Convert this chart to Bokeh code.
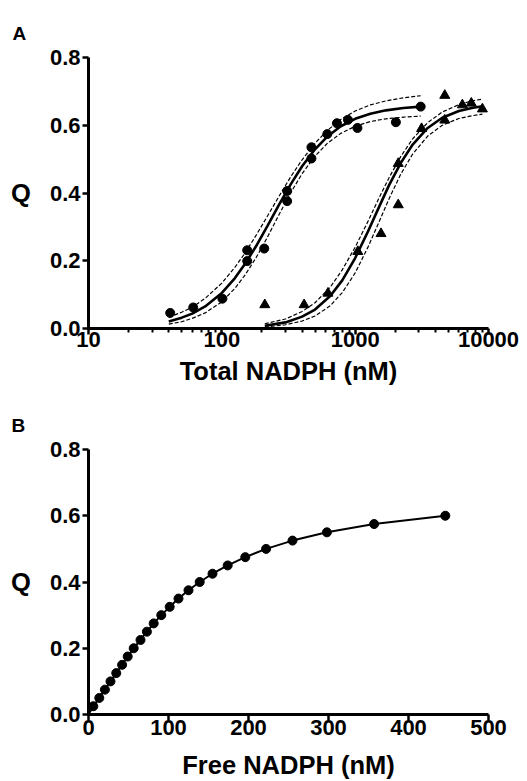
from bokeh.plotting import figure
from bokeh.layouts import column
from bokeh.models import Range1d, FixedTicker, PrintfTickFormatter, Title
from bokeh.embed import file_html
from bokeh.resources import INLINE

FONT = "Liberation Sans"

# ---------------- Panel A data ----------------
circle_nadph = [41, 61, 101, 155, 155, 208, 309, 309, 470, 470, 618, 730, 883, 1040, 2020, 3100]
circle_q = [0.046, 0.062, 0.088, 0.231, 0.199, 0.236, 0.406, 0.376, 0.535, 0.502,
            0.574, 0.606, 0.616, 0.592, 0.609, 0.655]

tri_nadph = [210, 414, 625, 1047, 1563, 2104, 2104, 3148, 4700, 4700, 6370, 7430, 9000]
tri_q = [0.070, 0.070, 0.104, 0.227, 0.280, 0.365, 0.487, 0.590, 0.688, 0.615, 0.660, 0.665, 0.648]

circle_fit_x = [40, 50, 60, 75, 100, 125, 150, 180, 220, 270, 330, 400, 500, 620, 780,
                1000, 1300, 1700, 2300, 3100]
circle_fit_q = [0.021, 0.032, 0.044, 0.065, 0.105, 0.148, 0.192, 0.242, 0.303, 0.367,
                0.427, 0.479, 0.529, 0.567, 0.597, 0.619, 0.634, 0.644, 0.651, 0.655]
circle_fit_upper = [0.033, 0.048, 0.063, 0.089, 0.134, 0.180, 0.224, 0.274, 0.332, 0.392,
                    0.449, 0.498, 0.547, 0.585, 0.617, 0.642, 0.660, 0.672, 0.681, 0.687]
circle_fit_lower = [0.013, 0.020, 0.030, 0.046, 0.079, 0.118, 0.159, 0.208, 0.270, 0.338,
                    0.402, 0.457, 0.509, 0.547, 0.576, 0.597, 0.611, 0.619, 0.624, 0.627]

tri_fit_x = [210, 300, 400, 500, 650, 800, 1000, 1250, 1500, 1800, 2200, 2700, 3500,
             4500, 6000, 7500, 9000]
tri_fit_q = [0.008, 0.018, 0.035, 0.056, 0.096, 0.142, 0.208, 0.287, 0.356, 0.424,
             0.489, 0.543, 0.592, 0.622, 0.642, 0.651, 0.656]
tri_fit_upper = [0.014, 0.028, 0.050, 0.076, 0.122, 0.173, 0.240, 0.317, 0.383, 0.446,
                 0.508, 0.560, 0.608, 0.639, 0.661, 0.672, 0.677]
tri_fit_lower = [0.004, 0.011, 0.022, 0.037, 0.067, 0.106, 0.164, 0.241, 0.312, 0.384,
                 0.456, 0.515, 0.568, 0.600, 0.620, 0.628, 0.633]

x_ticks_a = [10, 100, 1000, 10000]
x_minor_a = [20, 30, 40, 50, 60, 70, 80, 90,
             200, 300, 400, 500, 600, 700, 800, 900,
             2000, 3000, 4000, 5000, 6000, 7000, 8000, 9000]
y_ticks = [0.0, 0.2, 0.4, 0.6, 0.8]

# ---------------- Panel B data ----------------
free_nadph = [6, 13.5, 20.5, 27.5, 34.7, 42, 49, 56.5, 65, 73, 81.5, 91, 101.5, 112.5,
              125, 139, 155, 174, 196, 222, 255, 298, 357, 446]
free_q = [0.025, 0.050, 0.075, 0.100, 0.125, 0.150, 0.175, 0.200, 0.225, 0.250, 0.275, 0.300,
          0.325, 0.350, 0.375, 0.400, 0.425, 0.450, 0.475, 0.500, 0.525, 0.550, 0.575, 0.600]
free_line_x = [0] + free_nadph
free_line_q = [0.0] + free_q
x_ticks_b = [0, 100, 200, 300, 400, 500]


def style(p, letter, offset, standoff):
    p.outline_line_color = None
    p.background_fill_color = "white"
    p.border_fill_color = "white"
    p.xgrid.grid_line_color = None
    p.ygrid.grid_line_color = None
    for ax in (p.xaxis[0], p.yaxis[0]):
        ax.axis_line_width = 3
        ax.axis_line_color = "black"
        ax.major_tick_line_width = 2.5
        ax.major_tick_line_color = "black"
        ax.minor_tick_line_width = 2
        ax.minor_tick_line_color = "black"
        ax.major_tick_in = 0
        ax.major_tick_out = 6
        ax.minor_tick_in = 0
        ax.minor_tick_out = 4
        ax.major_label_text_font = FONT
        ax.major_label_text_font_style = "bold"
        ax.major_label_text_font_size = "22px"
        ax.major_label_text_color = "black"
        ax.axis_label_text_font = FONT
        ax.axis_label_text_font_style = "bold"
        ax.axis_label_text_font_size = "25.5px"
        ax.axis_label_text_color = "black"
    p.yaxis[0].major_label_standoff = 2
    p.yaxis[0].axis_label = "Q"
    p.yaxis[0].axis_label_orientation = "horizontal"
    p.yaxis[0].axis_label_standoff = 16
    # panel letter as a title placed in the top margin
    p.title = Title(text=letter, align="left", offset=offset, standoff=standoff,
                    vertical_align="top", text_font=FONT, text_font_style="bold",
                    text_font_size="19px", text_color="black", text_line_height=1.0)
    p.title_location = "above"


# ---------------- Panel A ----------------
pA = figure(width=520, height=396, x_axis_type="log",
            x_range=Range1d(10, 10000), y_range=Range1d(0, 0.8),
            output_backend="svg", toolbar_location=None,
            min_border_left=87, min_border_right=32, min_border_top=57, min_border_bottom=68)
style(pA, "A", -76, 23)
pA.xaxis[0].ticker = FixedTicker(ticks=x_ticks_a, minor_ticks=x_minor_a)
pA.xaxis[0].formatter = PrintfTickFormatter(format="%d")
pA.xaxis[0].axis_label = "Total NADPH (nM)"
pA.xaxis[0].major_label_standoff = -3
pA.xaxis[0].axis_label_standoff = 7
pA.yaxis[0].ticker = FixedTicker(ticks=y_ticks)
pA.yaxis[0].formatter = PrintfTickFormatter(format="%.1f")

for xs, ys in ((circle_fit_x, circle_fit_upper), (circle_fit_x, circle_fit_lower),
               (tri_fit_x, tri_fit_upper), (tri_fit_x, tri_fit_lower)):
    pA.line(xs, ys, line_color="black", line_width=1.2, line_dash="4 2")
pA.line(circle_fit_x, circle_fit_q, line_color="black", line_width=2.6)
pA.line(tri_fit_x, tri_fit_q, line_color="black", line_width=2.6)
pA.scatter(circle_nadph, circle_q, marker="circle", size=9, fill_color="black", line_color="black")
pA.scatter(tri_nadph, tri_q, marker="triangle", size=10, fill_color="black", line_color="black")

# ---------------- Panel B ----------------
pB = figure(width=520, height=385,
            x_range=Range1d(0, 500), y_range=Range1d(0, 0.8),
            output_backend="svg", toolbar_location=None,
            min_border_left=88, min_border_right=31, min_border_top=53, min_border_bottom=63)
style(pB, "B", -77, 24)
pB.xaxis[0].ticker = FixedTicker(ticks=x_ticks_b)
pB.xaxis[0].formatter = PrintfTickFormatter(format="%d")
pB.xaxis[0].axis_label = "Free NADPH (nM)"
pB.xaxis[0].major_label_standoff = -1
pB.xaxis[0].axis_label_standoff = 13
pB.yaxis[0].ticker = FixedTicker(ticks=y_ticks)
pB.yaxis[0].formatter = PrintfTickFormatter(format="%.1f")

pB.line(free_line_x, free_line_q, line_color="black", line_width=2)
pB.scatter(free_nadph, free_q, marker="circle", size=9, fill_color="black", line_color="black")

layout = column(pA, pB, spacing=0)
open("out.html", "w").write(file_html(layout, INLINE))
